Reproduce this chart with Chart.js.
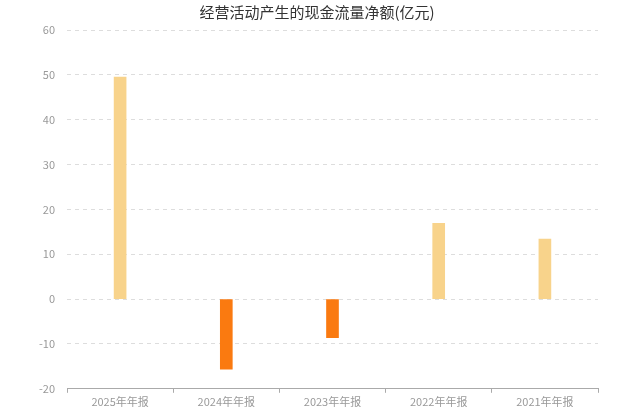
<!DOCTYPE html>
<html>
<head>
    <title>经营活动产生的现金流量净额</title>
    <style>
        body {
            margin: 0;
            padding: 0;
            background-color: #FFFFFF;
        }

        #chart-container {
            width: 640px;
            height: 412px;
        }
    </style>
</head>
<body>
    <div id="chart-container">
        <canvas id="chart"></canvas>
    </div>

    <script src="https://cdn.jsdelivr.net/npm/chart.js"></script>
    <script>
        var categories = ['2025年年报', '2024年年报', '2023年年报', '2022年年报', '2021年年报'];
        var cashFlow = [49.5, -15.6, -8.6, 16.9, 13.4]; // 亿元
        var yTicks = [-20, -10, 0, 10, 20, 30, 40, 50, 60];

        var posColor = '#F8D38B';
        var negColor = '#FA7A10';
        var font = "'Noto Sans CJK SC', 'Noto Sans', sans-serif";

        var ctx = document.getElementById('chart').getContext('2d');
        var chart = new Chart(ctx, {
            type: 'bar',
            data: {
                labels: categories,
                datasets: [{
                    label: '经营活动产生的现金流量净额(亿元)',
                    data: cashFlow,
                    backgroundColor: cashFlow.map(function (v) { return v >= 0 ? posColor : negColor; }),
                    barThickness: 12
                }]
            },
            options: {
                responsive: true,
                maintainAspectRatio: false,
                animation: false,
                layout: {
                    padding: { left: 36, right: 42, top: 0, bottom: 2 }
                },
                plugins: {
                    legend: { display: false },
                    tooltip: { enabled: false },
                    title: {
                        display: true,
                        text: '经营活动产生的现金流量净额(亿元)',
                        color: '#333333',
                        font: { family: font, size: 15, weight: 'normal' },
                        padding: { top: 3, bottom: 9 }
                    }
                },
                scales: {
                    x: {
                        grid: {
                            drawOnChartArea: false,
                            drawTicks: true,
                            tickLength: 4,
                            color: '#AAAAAA'
                        },
                        border: { display: true, color: '#AAAAAA' },
                        ticks: {
                            color: '#999999',
                            font: { family: font, size: 11 },
                            padding: 2
                        }
                    },
                    y: {
                        min: yTicks[0],
                        max: yTicks[yTicks.length - 1],
                        afterBuildTicks: function (scale) {
                            scale.ticks = yTicks.map(function (v) { return { value: v }; });
                        },
                        afterFit: function (scale) {
                            scale.width = 31; // keep plot left edge near x=67
                        },
                        grid: {
                            color: '#DDDDDD',
                            drawTicks: false
                        },
                        border: { display: false, dash: [4, 4] },
                        ticks: {
                            color: '#999999',
                            font: { family: font, size: 11 },
                            padding: 12
                        }
                    }
                }
            }
        });
    </script>
</body>
</html>
